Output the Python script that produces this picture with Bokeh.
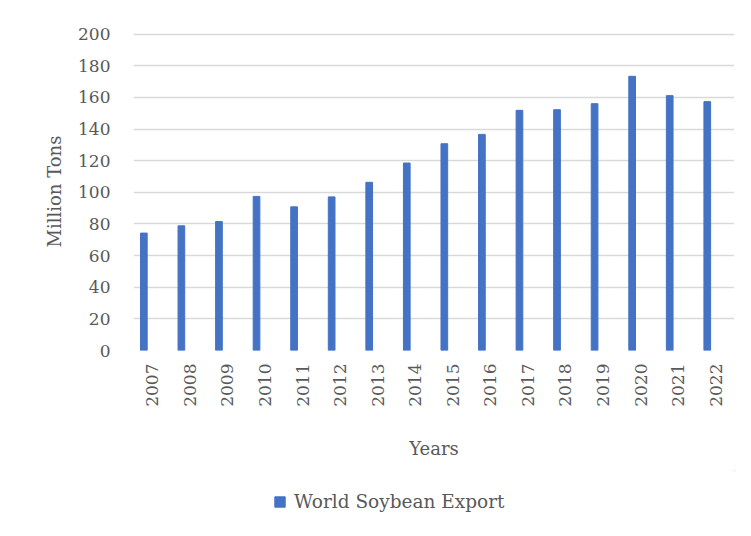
from bokeh.plotting import figure
from bokeh.layouts import column
from bokeh.models import (ColumnDataSource, FactorRange, Range1d, Legend, LegendItem,
                          SingleIntervalTicker)
from bokeh.transform import dodge
from bokeh.embed import file_html
from bokeh.resources import INLINE
import math

years = ["2007", "2008", "2009", "2010", "2011", "2012", "2013", "2014",
         "2015", "2016", "2017", "2018", "2019", "2020", "2021", "2022"]
exports = [74.2, 78.8, 81.5, 97.4, 90.8, 97.1, 106.3, 118.5,
           130.7, 136.6, 151.8, 152.2, 156.0, 173.3, 161.1, 157.3]
series_name = "World Soybean Export"
x_title = "Years"
y_title = "Million Tons"

FONT = "DejaVu Serif"
TXT = "#595959"
BAR = "#4472c4"

src = ColumnDataSource(dict(year=years, value=exports))

p = figure(width=751, height=470, x_range=FactorRange(*years), y_range=Range1d(0, 201),
           output_backend="svg", toolbar_location=None,
           min_border_left=133, min_border_right=17, min_border_top=32, min_border_bottom=120)
p.outline_line_color = None
p.background_fill_color = "white"
p.border_fill_color = "white"

r = p.vbar(x=dodge("year", -0.225, range=p.x_range), top="value", width=0.178,
           source=src, color=BAR)

p.xgrid.grid_line_color = None
p.ygrid.grid_line_color = "#d9d9d9"
p.ygrid.grid_line_width = 1.5
p.yaxis.ticker = SingleIntervalTicker(interval=20)

for ax in (p.xaxis[0], p.yaxis[0]):
    ax.axis_line_color = None
    ax.major_tick_line_color = None
    ax.minor_tick_line_color = None
    ax.major_tick_out = 0
    ax.major_tick_in = 0
    ax.major_label_text_font = FONT
    ax.major_label_text_font_size = "17px"
    ax.major_label_text_color = TXT
    ax.axis_label_text_font = FONT
    ax.axis_label_text_font_size = "18px"
    ax.axis_label_text_font_style = "normal"
    ax.axis_label_text_color = TXT

p.xaxis.axis_label = x_title
p.xaxis.major_label_orientation = math.pi / 2
p.xaxis.major_label_standoff = 13
p.xaxis.axis_label_standoff = 28

p.yaxis.axis_label = y_title
p.yaxis.major_label_standoff = 19
p.yaxis.axis_label_standoff = 10

# legend strip below the chart (its frame is aligned with the chart's frame)
lg = figure(width=751, height=66, x_range=Range1d(0, 1), y_range=Range1d(0, 1),
            output_backend="svg", toolbar_location=None,
            x_axis_location=None, y_axis_location=None,
            min_border=0, min_border_left=133, min_border_right=17,
            min_border_top=0, min_border_bottom=0)
lg.outline_line_color = None
lg.xgrid.visible = False
lg.ygrid.visible = False
# legend swatch renderer, kept far outside the visible area
lr = lg.vbar(x=[100], bottom=[99], top=[100], width=0.1, color=BAR)

legend = Legend(items=[LegendItem(label=series_name, renderers=[lr])],
                location=(140, 24), orientation="horizontal",
                border_line_color=None, background_fill_alpha=0,
                label_text_font=FONT, label_text_font_size="18.5px", label_text_color=TXT,
                glyph_width=13, glyph_height=13, label_standoff=8,
                padding=4, margin=0)
lg.add_layout(legend, "center")

layout = column(p, lg, spacing=0)
open("out.html", "w").write(file_html(layout, INLINE))
